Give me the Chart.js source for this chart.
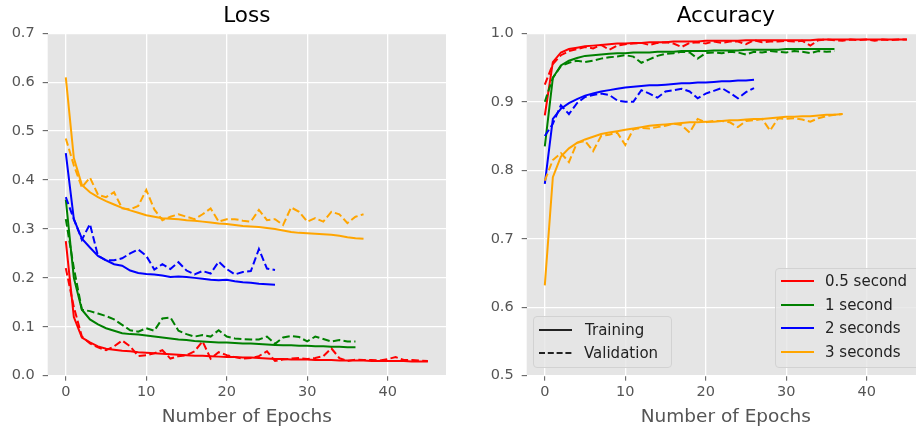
<!DOCTYPE html>
<html>
<head>
<meta charset="utf-8">
<title>Loss / Accuracy</title>
<script src="https://cdn.jsdelivr.net/npm/chart.js@4.4.1/dist/chart.umd.min.js"></script>
<style>
  html, body { margin: 0; padding: 0; background: #fff; overflow: hidden; }
  #wrap { position: relative; width: 916px; height: 432px; overflow: hidden; font-family: "DejaVu Sans", sans-serif; }
  canvas { position: absolute; top: 0; }
  #loss { left: 0; }
  #acc { left: 479px; }
  .legend { position: absolute; background: rgba(229,229,229,0.8); border: 1px solid #d2d2d2; border-radius: 4px; box-sizing: border-box; }
  .row { position: absolute; left: 0; height: 18px; line-height: 18px; font-size: 15px; color: #222; white-space: nowrap; }
  .row svg { position: absolute; top: 7px; }
  .row span { position: absolute; }
</style>
</head>
<body>
<div id="wrap">
  <canvas id="loss" width="460" height="432"></canvas>
  <canvas id="acc" width="461" height="432"></canvas>
  <div class="legend" id="styleLegend" style="left:533px; top:316px; width:139px; height:52px;"></div>
  <div class="legend" id="colorLegend" style="left:775px; top:268px; width:146px; height:100px;"></div>
</div>
<script>
// window lengths and their colours
const durations = ['0.5 second', '1 second', '2 seconds', '3 seconds'];
const colors = ['red', 'green', 'blue', 'orange'];

// axis ticks
const epochTicks = [0, 10, 20, 30, 40];
const lossTicks = [0.0, 0.1, 0.2, 0.3, 0.4, 0.5, 0.6, 0.7];
const accTicks = [0.5, 0.6, 0.7, 0.8, 0.9, 1.0];

// loss per epoch
const lossTrain05 = [0.275, 0.12, 0.078, 0.068, 0.06, 0.055, 0.053, 0.051, 0.05, 0.048, 0.047, 0.046, 0.045, 0.044, 0.043, 0.042, 0.041, 0.041, 0.04, 0.039, 0.038, 0.038, 0.037, 0.037, 0.036, 0.035, 0.034, 0.034, 0.033, 0.033, 0.033, 0.032, 0.032, 0.032, 0.031, 0.031, 0.031, 0.031, 0.03, 0.03, 0.03, 0.03, 0.03, 0.029, 0.029, 0.029];
const lossVal05 = [0.22, 0.14, 0.08, 0.066, 0.058, 0.052, 0.06, 0.072, 0.06, 0.04, 0.042, 0.046, 0.052, 0.035, 0.04, 0.042, 0.05, 0.07, 0.035, 0.048, 0.042, 0.038, 0.035, 0.036, 0.04, 0.05, 0.03, 0.033, 0.035, 0.036, 0.034, 0.036, 0.04, 0.056, 0.036, 0.03, 0.033, 0.032, 0.032, 0.031, 0.034, 0.038, 0.032, 0.032, 0.031, 0.03];
const lossTrain1 = [0.36, 0.2, 0.135, 0.115, 0.105, 0.097, 0.092, 0.087, 0.085, 0.084, 0.082, 0.08, 0.078, 0.076, 0.074, 0.073, 0.071, 0.07, 0.069, 0.068, 0.068, 0.067, 0.066, 0.066, 0.065, 0.064, 0.063, 0.062, 0.062, 0.061, 0.061, 0.06, 0.06, 0.059, 0.059, 0.058, 0.058];
const lossVal1 = [0.32, 0.22, 0.135, 0.132, 0.127, 0.122, 0.115, 0.104, 0.093, 0.09, 0.097, 0.092, 0.117, 0.119, 0.092, 0.085, 0.08, 0.083, 0.08, 0.093, 0.08, 0.076, 0.075, 0.074, 0.074, 0.08, 0.065, 0.078, 0.081, 0.079, 0.07, 0.08, 0.075, 0.07, 0.073, 0.07, 0.07];
const lossTrain2 = [0.455, 0.32, 0.28, 0.262, 0.245, 0.236, 0.228, 0.225, 0.215, 0.21, 0.208, 0.207, 0.205, 0.202, 0.203, 0.202, 0.2, 0.198, 0.196, 0.195, 0.196, 0.193, 0.191, 0.19, 0.188, 0.187, 0.186];
const lossVal2 = [0.365, 0.32, 0.278, 0.31, 0.245, 0.236, 0.236, 0.24, 0.25, 0.258, 0.245, 0.217, 0.228, 0.218, 0.232, 0.215, 0.207, 0.214, 0.209, 0.233, 0.218, 0.207, 0.212, 0.214, 0.259, 0.219, 0.216];
const lossTrain3 = [0.61, 0.445, 0.39, 0.375, 0.365, 0.357, 0.35, 0.343, 0.338, 0.333, 0.328, 0.325, 0.322, 0.321, 0.32, 0.318, 0.317, 0.315, 0.313, 0.311, 0.31, 0.308, 0.306, 0.305, 0.304, 0.302, 0.3, 0.297, 0.294, 0.292, 0.291, 0.29, 0.289, 0.288, 0.286, 0.283, 0.281, 0.28];
const lossVal3 = [0.485, 0.43, 0.385, 0.405, 0.37, 0.365, 0.375, 0.342, 0.34, 0.347, 0.38, 0.34, 0.318, 0.325, 0.33, 0.325, 0.32, 0.33, 0.342, 0.315, 0.32, 0.32, 0.317, 0.315, 0.339, 0.318, 0.32, 0.308, 0.344, 0.335, 0.315, 0.322, 0.315, 0.335, 0.33, 0.312, 0.325, 0.33];

// accuracy per epoch
const accTrain05 = [0.88, 0.958, 0.972, 0.977, 0.979, 0.981, 0.982, 0.983, 0.984, 0.985, 0.985, 0.986, 0.986, 0.987, 0.987, 0.987, 0.988, 0.988, 0.988, 0.988, 0.989, 0.989, 0.989, 0.989, 0.989, 0.99, 0.99, 0.99, 0.99, 0.99, 0.99, 0.99, 0.99, 0.99, 0.991, 0.991, 0.991, 0.991, 0.991, 0.991, 0.991, 0.991, 0.991, 0.991, 0.991, 0.991];
const accVal05 = [0.925, 0.955, 0.968, 0.974, 0.977, 0.98, 0.978, 0.983, 0.976, 0.982, 0.984, 0.985, 0.986, 0.983, 0.986, 0.987, 0.985, 0.98, 0.986, 0.987, 0.985, 0.988, 0.986, 0.988, 0.988, 0.984, 0.99, 0.987, 0.988, 0.988, 0.989, 0.988, 0.989, 0.982, 0.99, 0.991, 0.99, 0.989, 0.991, 0.99, 0.991, 0.989, 0.991, 0.99, 0.991, 0.991];
const accTrain1 = [0.835, 0.935, 0.953, 0.96, 0.964, 0.967, 0.968, 0.969, 0.97, 0.971, 0.971, 0.972, 0.972, 0.972, 0.973, 0.973, 0.973, 0.974, 0.974, 0.974, 0.974, 0.975, 0.975, 0.975, 0.975, 0.976, 0.976, 0.976, 0.976, 0.976, 0.977, 0.977, 0.977, 0.977, 0.977, 0.977, 0.977];
const accVal1 = [0.9, 0.935, 0.952, 0.957, 0.96, 0.958, 0.96, 0.963, 0.965, 0.966, 0.968, 0.966, 0.957, 0.962, 0.967, 0.97, 0.971, 0.973, 0.972, 0.963, 0.971, 0.972, 0.971, 0.973, 0.972, 0.969, 0.973, 0.972, 0.974, 0.973, 0.972, 0.974, 0.973, 0.971, 0.974, 0.973, 0.974];
const accTrain2 = [0.78, 0.875, 0.89, 0.898, 0.904, 0.909, 0.912, 0.915, 0.917, 0.919, 0.921, 0.922, 0.923, 0.924, 0.924, 0.925, 0.926, 0.927, 0.927, 0.928, 0.928, 0.929, 0.93, 0.93, 0.931, 0.931, 0.932];
const accVal2 = [0.85, 0.868, 0.895, 0.882, 0.898, 0.907, 0.91, 0.912, 0.91, 0.902, 0.9, 0.9, 0.917, 0.912, 0.906, 0.915, 0.917, 0.919, 0.915, 0.905, 0.912, 0.916, 0.92, 0.913, 0.905, 0.914, 0.92];
const accTrain3 = [0.632, 0.79, 0.82, 0.832, 0.84, 0.845, 0.849, 0.853, 0.855, 0.857, 0.859, 0.861, 0.863, 0.865, 0.866, 0.867, 0.868, 0.869, 0.87, 0.87, 0.871, 0.871, 0.872, 0.873, 0.873, 0.874, 0.875, 0.875, 0.876, 0.877, 0.878, 0.878, 0.879, 0.879, 0.88, 0.881, 0.881, 0.882];
const accVal3 = [0.785, 0.815, 0.825, 0.812, 0.84, 0.843, 0.828, 0.85, 0.852, 0.855, 0.837, 0.86, 0.862, 0.861, 0.863, 0.865, 0.868, 0.866, 0.855, 0.875, 0.87, 0.872, 0.872, 0.87, 0.863, 0.872, 0.873, 0.875, 0.858, 0.876, 0.875, 0.876, 0.874, 0.871, 0.876, 0.879, 0.881, 0.882];

const lossRuns = [[lossTrain05, lossVal05], [lossTrain1, lossVal1], [lossTrain2, lossVal2], [lossTrain3, lossVal3]];
const accRuns = [[accTrain05, accVal05], [accTrain1, accVal1], [accTrain2, accVal2], [accTrain3, accVal3]];

const DASH = [7.5, 3.3];
Chart.defaults.font.family = '"DejaVu Sans", sans-serif';

// grey panel behind the grid
const plotBackground = {
  id: 'plotBackground',
  beforeDraw(chart) {
    const { ctx, chartArea: a } = chart;
    ctx.save();
    ctx.fillStyle = '#E5E5E5';
    ctx.fillRect(a.left, a.top, a.right - a.left, a.bottom - a.top);
    ctx.restore();
  }
};

function buildDatasets(runs) {
  let sets = [];
  runs.forEach(function(run, i) {
    run.forEach(function(values, j) {
      sets.push({
        label: durations[i] + (j == 0 ? ' training' : ' validation'),
        data: values.map((v, e) => ({ x: e, y: v })),
        borderColor: colors[i],
        borderWidth: 2,
        borderDash: j == 0 ? [] : DASH,
        pointRadius: 0,
        tension: 0,
        fill: false
      });
    });
  });
  // later series sit on top, like the original plot
  sets.forEach((s, k) => s.order = sets.length - k);
  return sets;
}

function makeChart(id, title, runs, yMin, yMax, yTicks, rightPad) {
  return new Chart(document.getElementById(id), {
    type: 'line',
    data: { datasets: buildDatasets(runs) },
    plugins: [plotBackground],
    options: {
      responsive: false,
      animation: false,
      events: [],
      layout: { padding: { left: 0, right: rightPad, top: 0, bottom: 0 } },
      plugins: {
        legend: { display: false },
        tooltip: { enabled: false },
        title: {
          display: true,
          text: title,
          color: '#000',
          fullSize: false,
          font: { size: 21.5, weight: 'normal' },
          padding: { top: 4.0, bottom: 3.5 }
        }
      },
      scales: {
        x: {
          type: 'linear',
          min: -2.25,
          max: 47.25,
          afterBuildTicks: s => { s.ticks = epochTicks.map(v => ({ value: v })); },
          afterFit: s => { s.height = 56.3; },
          ticks: { color: '#555', font: { size: 14.5 }, padding: 3, callback: v => String(v) },
          grid: { color: '#fff', lineWidth: 1.3, tickColor: '#555', tickWidth: 1, tickLength: 5 },
          border: { display: false },
          title: { display: true, text: 'Number of Epochs', color: '#555', font: { size: 18.5 }, padding: { top: 2, bottom: 3.4 } }
        },
        y: {
          min: yMin,
          max: yMax,
          afterBuildTicks: s => { s.ticks = yTicks.map(v => ({ value: v })); },
          afterFit: s => { s.width = 47.7; },
          ticks: { color: '#555', font: { size: 14.5 }, padding: 8, callback: v => v.toFixed(1) },
          grid: { color: '#fff', lineWidth: 1.3, tickColor: '#555', tickWidth: 1, tickLength: 5 },
          border: { display: false }
        }
      }
    }
  });
}

makeChart('loss', 'Loss', lossRuns, 0, 0.7, lossTicks, 14);
makeChart('acc', 'Accuracy', accRuns, 0.5, 1.0, accTicks, 15);

// legends drawn inside the accuracy panel
function legendRow(box, top, handle, text, textLeft) {
  let row = document.createElement('div');
  row.className = 'row';
  row.style.top = top + 'px';
  row.innerHTML = '<svg width="34" height="4" style="left:5px">' +
    '<line x1="0" y1="2" x2="33" y2="2" stroke="' + handle.color + '" stroke-width="2"' +
    (handle.dash ? ' stroke-dasharray="6 2.8"' : '') + '/></svg>' +
    '<span style="left:' + textLeft + 'px">' + text + '</span>';
  box.appendChild(row);
}

let styleLegend = document.getElementById('styleLegend');
legendRow(styleLegend, 3.7, { color: '#222', dash: false }, 'Training', 51);
legendRow(styleLegend, 26.7, { color: '#222', dash: true }, 'Validation', 50);

let colorLegend = document.getElementById('colorLegend');
durations.forEach(function(d, i) {
  legendRow(colorLegend, 3.4 + i * 23.4, { color: colors[i], dash: false }, d, 49);
});
</script>
</body>
</html>
